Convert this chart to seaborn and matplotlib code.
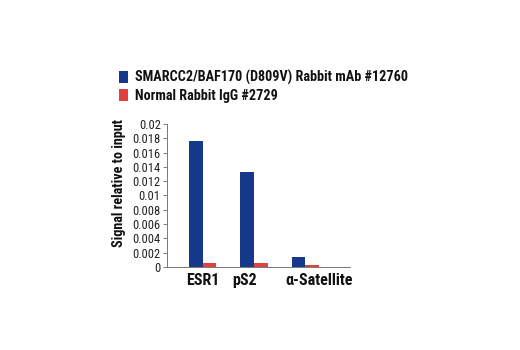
import matplotlib
matplotlib.use("Agg")
import matplotlib.pyplot as plt
import matplotlib.transforms as mtransforms
import seaborn as sns
import pandas as pd
from matplotlib.patches import Patch

categories = ["ESR1", "pS2", "\u03b1-Satellite"]
series_names = ["SMARCC2/BAF170 (D809V) Rabbit mAb #12760", "Normal Rabbit IgG #2729"]
smarcc2_values = [0.0176, 0.0133, 0.0014]
igg_values = [0.0005, 0.0005, 0.0003]
yticks = [0, 0.002, 0.004, 0.006, 0.008, 0.01, 0.012, 0.014, 0.016, 0.018, 0.02]
ytick_labels = ["0", "0.002", "0.004", "0.006", "0.008", "0.01", "0.012", "0.014", "0.016", "0.018", "0.02"]

colors = ["#16388a", "#e0413f"]

sns.set_theme(style="white")
plt.rcParams['font.family'] = ['Roboto Condensed', 'DejaVu Sans']

df = pd.DataFrame({
    "category": categories * 2,
    "series": [series_names[0]] * 3 + [series_names[1]] * 3,
    "value": smarcc2_values + igg_values,
})

fig = plt.figure(figsize=(5.2, 3.5), dpi=100)
ax = fig.add_axes([0.321, 0.237, 0.352, 0.409])
sns.barplot(data=df, x="category", y="value", hue="series", palette=colors,
            width=0.53, ax=ax, legend=False, saturation=1, linewidth=0)

ax.set_xlim(-0.706, 2.88)
ax.set_ylim(0, 0.02)
ax.set_yticks(yticks)
ax.set_yticklabels(ytick_labels, fontsize=9, color="#222222")
ax.tick_params(axis="y", length=3, width=0.6, color="#666666", pad=1.5, left=True)
ax.tick_params(axis="x", length=0, pad=4)
# label offsets in pixels, as laid out in the reference
label_shifts = [0, -9, 14]
for lbl, dx in zip(ax.get_xticklabels(), label_shifts):
    lbl.set_fontsize(11.5)
    lbl.set_fontweight("bold")
    lbl.set_color("#111111")
    lbl.set_transform(lbl.get_transform() + mtransforms.Affine2D().translate(dx, 0))
ax.set_xlabel("")
ax.set_ylabel("Signal relative to input", fontsize=10.2, fontweight="bold", color="#111111")
ax.yaxis.set_label_coords(-0.225, 0.584)
for s in ["top", "right"]:
    ax.spines[s].set_visible(False)
for s in ["left", "bottom"]:
    ax.spines[s].set_color("#777777")
    ax.spines[s].set_linewidth(0.7)

handles = [Patch(facecolor=c, edgecolor="none") for c in colors]
fig.legend(handles, series_names, loc="upper left", bbox_to_anchor=(0.229, 0.8),
           frameon=False, prop={"size": 10.2, "weight": "bold"}, labelcolor="#111111",
           handlelength=0.65, handleheight=0.95, handletextpad=0.45, labelspacing=0.27,
           borderaxespad=0, borderpad=0)

fig.savefig("out.png", dpi=100)
